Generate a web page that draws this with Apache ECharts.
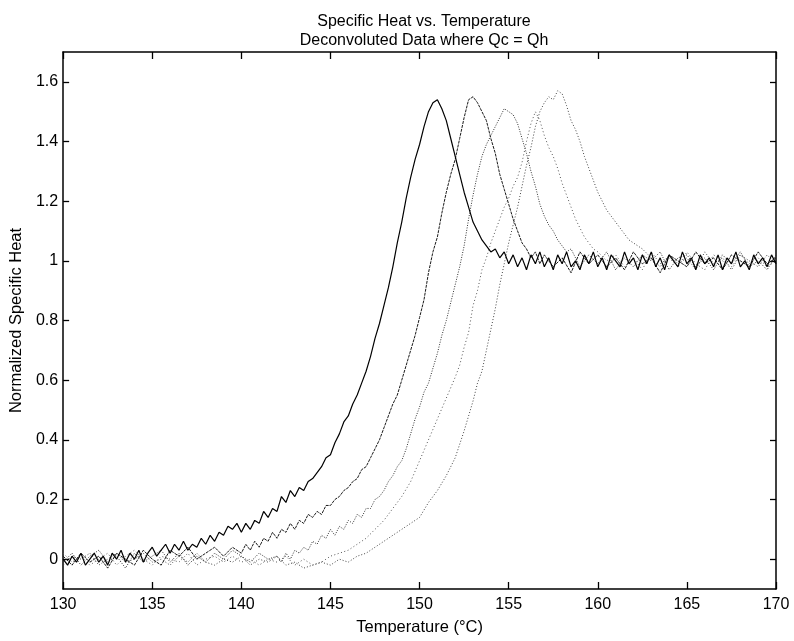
<!DOCTYPE html>
<html><head><meta charset="utf-8">
<script src="https://cdn.jsdelivr.net/npm/echarts@6/dist/echarts.min.js"></script>
<style>html,body{margin:0;padding:0;background:#fff}#c{width:794px;height:641px}</style>
</head><body><div id="c"></div>
<script>
const titleText = 'Specific Heat vs. Temperature\nDeconvoluted Data where Qc = Qh';
const xName = 'Temperature (°C)';
const yName = 'Normalized Specific Heat';
const xTicks = [130, 135, 140, 145, 150, 155, 160, 165, 170];
const yTicks = [0, 0.2, 0.4, 0.6, 0.8, 1, 1.2, 1.4, 1.6];

// Curve A (darkest, earliest peak)
const curveA = [
[130,0.00],[130.25,-0.02],[130.5,0.01],[130.75,-0.01],[131,0.02],[131.25,-0.02],[131.5,0.00],[131.75,0.02],
[132,-0.01],[132.25,0.01],[132.5,-0.02],[132.75,0.02],[133,0.00],[133.25,0.03],[133.5,-0.01],[133.75,0.02],
[134,0.00],[134.25,0.03],[134.5,-0.01],[134.75,0.02],[135,0.04],[135.25,0.01],[135.5,0.03],[135.75,0.05],
[136,0.02],[136.25,0.05],[136.5,0.03],[136.75,0.06],[137,0.03],[137.25,0.05],[137.5,0.04],[137.75,0.07],
[138,0.05],[138.25,0.08],[138.5,0.06],[138.75,0.09],[139,0.08],[139.25,0.11],[139.5,0.10],[139.75,0.12],
[140,0.09],[140.25,0.12],[140.5,0.10],[140.75,0.13],[141,0.12],[141.25,0.16],[141.5,0.14],[141.75,0.17],
[142,0.16],[142.25,0.21],[142.5,0.19],[142.75,0.23],[143,0.21],[143.25,0.24],[143.5,0.23],[143.75,0.26],
[144,0.27],[144.25,0.29],[144.5,0.31],[144.75,0.34],[145,0.35],[145.25,0.39],[145.5,0.42],[145.75,0.46],
[146,0.48],[146.25,0.52],[146.5,0.55],[146.75,0.59],[147,0.63],[147.25,0.68],[147.5,0.74],[147.75,0.79],
[148,0.85],[148.25,0.91],[148.5,0.98],[148.75,1.06],[149,1.13],[149.25,1.21],[149.5,1.28],[149.75,1.34],
[150,1.39],[150.25,1.45],[150.5,1.50],[150.75,1.53],[151,1.54],[151.25,1.51],[151.5,1.47],[151.75,1.41],
[152,1.35],[152.25,1.29],[152.5,1.23],[152.75,1.18],[153,1.13],[153.25,1.10],[153.5,1.07],[153.75,1.05],
[154,1.03],[154.25,1.04],[154.5,1.01],[154.75,1.03],[155,0.99],[155.25,1.02],[155.5,0.98],[155.75,1.01],
[156,0.97],[156.25,1.02],[156.5,0.99],[156.75,1.03],[157,0.98],[157.25,1.01],[157.5,0.97],[157.75,1.02],
[158,0.99],[158.25,1.03],[158.5,0.98],[158.75,1.00],[159,0.97],[159.25,1.02],[159.5,0.99],[159.75,1.03],
[160,0.98],[160.25,1.01],[160.5,0.97],[160.75,1.02],[161,1.00],[161.25,0.98],[161.5,1.03],[161.75,0.99],
[162,1.01],[162.25,0.97],[162.5,1.02],[162.75,0.99],[163,1.03],[163.25,0.98],[163.5,1.01],[163.75,0.97],
[164,1.02],[164.25,1.00],[164.5,0.98],[164.75,1.03],[165,0.99],[165.25,1.01],[165.5,0.97],[165.75,1.02],
[166,0.99],[166.25,1.01],[166.5,0.98],[166.75,1.02],[167,0.97],[167.25,1.01],[167.5,0.99],[167.75,1.03],
[168,0.98],[168.25,1.00],[168.5,0.97],[168.75,1.02],[169,0.99],[169.25,1.01],[169.5,0.98],[169.75,1.02],[170,0.99]
];

const curveB = [
[130,0.01],[130.5,-0.02],[131,0.02],[131.5,-0.01],[132,0.01],[132.5,-0.03],[133,0.02],[133.5,0.00],
[134,-0.02],[134.5,0.03],[135,0.00],[135.5,-0.02],[136,0.03],[136.5,0.01],[137,0.04],[137.5,0.00],
[138,0.02],[138.5,0.04],[139,0.01],[139.5,0.04],
[140,0.02],[140.25,0.05],[140.5,0.03],[140.75,0.06],[141,0.04],[141.25,0.07],[141.5,0.06],[141.75,0.09],
[142,0.07],[142.25,0.10],[142.5,0.09],[142.75,0.12],[143,0.10],[143.25,0.13],[143.5,0.12],[143.75,0.15],
[144,0.14],[144.25,0.16],[144.5,0.15],[144.75,0.18],[145,0.18],[145.25,0.20],[145.5,0.21],[145.75,0.23],
[146,0.24],[146.25,0.26],[146.5,0.27],[146.75,0.30],[147,0.31],[147.25,0.34],[147.5,0.37],[147.75,0.40],
[148,0.44],[148.25,0.48],[148.5,0.52],[148.75,0.55],[149,0.60],[149.25,0.65],[149.5,0.70],[149.75,0.75],
[150,0.81],[150.25,0.87],[150.5,0.96],[150.75,1.03],[151,1.08],[151.25,1.16],[151.5,1.23],[151.75,1.29],
[152,1.34],[152.25,1.41],[152.5,1.48],[152.75,1.54],[153,1.55],[153.25,1.53],[153.5,1.50],[153.75,1.47],
[154,1.41],[154.25,1.36],[154.5,1.29],[154.75,1.24],[155,1.19],[155.25,1.14],[155.5,1.10],[155.75,1.06],
[156,1.04],[156.25,1.01],[156.5,1.03],[156.75,0.99],
[157,1.02],[157.5,0.98],[158,1.01],[158.5,0.96],[159,1.03],[159.5,0.99],[160,1.02],[160.5,0.98],
[161,1.01],[161.5,0.97],[162,1.03],[162.5,0.99],[163,1.01],[163.5,0.96],[164,1.02],[164.5,1.00],
[165,0.98],[165.5,1.03],[166,0.99],[166.5,1.01],[167,0.97],[167.5,1.02],[168,1.00],[168.5,0.98],
[169,1.03],[169.5,0.99],[170,1.01]
];

const curveC = [
[130,-0.01],[130.5,0.02],[131,-0.02],[131.5,0.01],[132,0.03],[132.5,-0.01],[133,0.01],[133.5,-0.03],
[134,0.02],[134.5,-0.01],[135,0.01],[135.5,0.03],[136,-0.01],[136.5,0.02],[137,-0.02],[137.5,0.01],
[138,-0.01],[138.5,0.02],[139,0.00],[139.5,0.03],[140,0.01],[140.5,-0.01],[141,0.02],[141.5,0.00],
[142,0.01],[142.25,-0.01],[142.5,0.02],[142.75,0.00],[143,0.03],[143.25,0.02],[143.5,0.04],[143.75,0.03],
[144,0.06],[144.25,0.05],[144.5,0.08],[144.75,0.07],[145,0.10],[145.25,0.08],[145.5,0.11],[145.75,0.10],
[146,0.13],[146.25,0.12],[146.5,0.15],[146.75,0.14],[147,0.17],[147.25,0.17],[147.5,0.20],[147.75,0.21],
[148,0.23],[148.25,0.26],[148.5,0.28],[148.75,0.31],[149,0.33],[149.25,0.37],[149.5,0.42],[149.75,0.47],
[150,0.51],[150.25,0.56],[150.5,0.59],[150.75,0.64],[151,0.69],[151.25,0.75],[151.5,0.80],[151.75,0.86],
[152,0.92],[152.25,0.98],[152.5,1.05],[152.75,1.14],[153,1.22],[153.25,1.29],[153.5,1.35],[153.75,1.39],
[154,1.42],[154.25,1.45],[154.5,1.48],[154.75,1.51],[155,1.50],[155.25,1.49],[155.5,1.46],[155.75,1.41],
[156,1.36],[156.25,1.30],[156.5,1.25],[156.75,1.19],[157,1.15],[157.25,1.12],[157.5,1.10],[157.75,1.07],
[158,1.05],[158.25,1.03],[158.5,1.04],[158.75,1.01],
[159,0.98],[159.5,1.02],[160,0.99],[160.5,1.03],[161,0.97],[161.5,1.01],[162,0.98],[162.5,1.02],
[163,1.00],[163.5,1.03],[164,0.97],[164.5,1.01],[165,1.02],[165.5,0.98],[166,1.01],[166.5,0.97],
[167,1.02],[167.5,0.99],[168,1.03],[168.5,0.98],[169,1.00],[169.5,0.97],[170,1.02]
];

const curveD = [
[130,0.02],[130.5,-0.01],[131,0.01],[131.5,-0.02],[132,0.00],[132.5,0.02],[133,-0.02],[133.5,0.01],
[134,0.03],[134.5,0.00],[135,-0.02],[135.5,0.01],[136,0.00],[136.5,-0.01],[137,0.02],[137.5,-0.02],
[138,0.00],[138.5,0.01],[139,-0.01],[139.5,0.01],[140,-0.01],[140.5,0.00],[141,-0.02],[141.5,0.00],
[142,-0.01],[142.5,0.01],[143,-0.02],[143.5,0.00],
[144,-0.02],[144.5,-0.01],[145,0.01],[145.5,0.02],[146,0.03],[146.5,0.05],[147,0.07],[147.5,0.10],
[148,0.13],[148.5,0.17],[149,0.21],[149.5,0.26],[150,0.33],[150.5,0.40],[151,0.47],[151.5,0.54],
[152,0.61],[152.25,0.65],[152.5,0.71],[152.75,0.76],[153,0.85],[153.25,0.90],[153.5,0.97],[153.75,1.01],
[154,1.06],[154.25,1.10],[154.5,1.14],[154.75,1.18],[155,1.21],[155.25,1.25],[155.5,1.28],[155.75,1.33],
[156,1.40],[156.25,1.46],[156.5,1.50],[156.75,1.47],[157,1.42],[157.25,1.38],[157.5,1.35],[157.75,1.31],
[158,1.26],[158.25,1.22],[158.5,1.18],[158.75,1.14],[159,1.11],[159.25,1.08],[159.5,1.06],[159.75,1.04],
[160,1.03],[160.5,1.00],
[161,1.02],[161.5,0.98],[162,1.01],[162.5,0.97],[163,1.03],[163.5,0.99],[164,1.01],[164.5,0.98],
[165,1.03],[165.5,0.99],[166,0.97],[166.5,1.02],[167,1.00],[167.5,0.98],[168,1.02],[168.5,0.99],
[169,1.01],[169.5,0.98],[170,1.00]
];

const curveE = [
[130,-0.02],[130.5,0.01],[131,0.00],[131.5,0.02],[132,-0.02],[132.5,0.00],[133,0.02],[133.5,-0.01],
[134,0.00],[134.5,0.02],[135,-0.01],[135.5,0.00],[136,-0.02],[136.5,0.01],[137,-0.01],[137.5,0.02],
[138,-0.01],[138.5,-0.02],[139,0.00],[139.5,-0.01],[140,0.01],[140.5,-0.02],[141,0.00],[141.5,-0.01],
[142,0.01],[142.5,-0.02],[143,-0.01],[143.5,-0.03],[144,-0.02],[144.5,-0.01],[145,-0.02],[145.5,0.00],
[146,-0.01],[146.5,0.01],[147,0.02],[147.5,0.04],[148,0.06],[148.5,0.08],[149,0.10],[149.5,0.12],
[150,0.14],[150.5,0.19],[151,0.23],[151.5,0.28],[152,0.34],[152.5,0.43],[153,0.53],[153.25,0.59],
[153.5,0.63],[153.75,0.70],[154,0.77],[154.25,0.84],[154.5,0.92],[154.75,0.99],[155,1.06],[155.25,1.12],
[155.5,1.18],[155.75,1.25],[156,1.32],[156.25,1.38],[156.5,1.45],[156.75,1.50],[157,1.53],[157.25,1.55],
[157.5,1.54],[157.75,1.57],[158,1.56],[158.25,1.52],[158.5,1.47],[158.75,1.44],[159,1.40],[159.25,1.35],
[159.5,1.31],[159.75,1.27],[160,1.23],[160.25,1.20],[160.5,1.17],[160.75,1.15],[161,1.13],[161.25,1.11],
[161.5,1.09],[161.75,1.07],[162,1.06],[162.5,1.04],[163,1.01],
[163.5,0.98],[164,1.02],[164.5,0.99],[165,1.01],[165.5,0.97],[166,1.03],[166.5,0.99],[167,1.01],
[167.5,0.97],[168,1.02],[168.5,1.00],[169,0.98],[169.5,1.02],[170,0.99]
];

const FONT = '"Liberation Sans", Arial, Helvetica, sans-serif';
const frameLine = { show: true, onZero: false, lineStyle: { color: '#000', width: 1.5 } };
const tickStyle = { color: '#000', width: 1.3 };

const chart = echarts.init(document.getElementById('c'), null, { renderer: 'canvas' });
function mkSeries(data, color, width, type) {
  return { type: 'line', data: data, xAxisIndex: 0, yAxisIndex: 0, symbol: 'none', showSymbol: false,
    animation: false, silent: true, lineStyle: { color: color, width: width, type: type } };
}
chart.setOption({
  animation: false,
  backgroundColor: '#fff',
  title: {
    text: titleText, left: 419, top: 7, textAlign: 'center',
    textStyle: { fontFamily: FONT, fontSize: 16, fontWeight: 'normal', color: '#000', lineHeight: 19 }
  },
  grid: { left: 63, right: 18, top: 52, bottom: 46, containLabel: false },
  xAxis: [
    { type: 'value', min: 130, max: 170, interval: 5, position: 'bottom',
      axisLine: frameLine, axisTick: { show: true, inside: true, length: 7, lineStyle: tickStyle },
      axisLabel: { margin: 8, fontFamily: FONT, fontSize: 16, color: '#000' },
      splitLine: { show: false },
      name: xName, nameLocation: 'middle', nameGap: 30,
      nameTextStyle: { fontFamily: FONT, fontSize: 16.5, color: '#000' } },
    { type: 'value', min: 130, max: 170, interval: 5, position: 'top',
      axisLine: frameLine, axisTick: { show: true, inside: true, length: 7, lineStyle: tickStyle },
      axisLabel: { show: false }, splitLine: { show: false } }
  ],
  yAxis: [
    { type: 'value', min: -0.1, max: 1.7, position: 'left',
      axisLine: frameLine,
      axisTick: { show: true, inside: true, length: 6, lineStyle: tickStyle, customValues: yTicks },
      axisLabel: { margin: 5, fontFamily: FONT, fontSize: 16, color: '#000', customValues: yTicks },
      splitLine: { show: false },
      name: yName, nameLocation: 'middle', nameGap: 37, nameRotate: 90,
      nameTextStyle: { fontFamily: FONT, fontSize: 16.5, color: '#000' } },
    { type: 'value', min: -0.1, max: 1.7, position: 'right',
      axisLine: frameLine,
      axisTick: { show: true, inside: true, length: 6, lineStyle: tickStyle, customValues: yTicks },
      axisLabel: { show: false }, splitLine: { show: false } }
  ],
  series: [
    mkSeries(curveE, '#444', 1, [1, 2]),
    mkSeries(curveD, '#555', 1, [1, 2.5]),
    mkSeries(curveC, '#333', 1, [1, 1.5]),
    mkSeries(curveB, '#1a1a1a', 1, [3, 1]),
    mkSeries(curveA, '#000', 1.2, 'solid')
  ]
});
</script>
</body></html>
